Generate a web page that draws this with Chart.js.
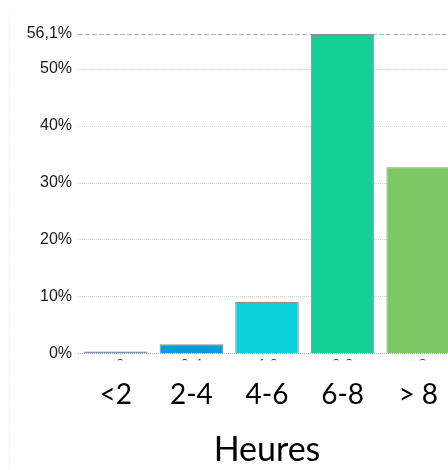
<!DOCTYPE html>
<html>
<head>
<meta charset="utf-8">
<script src="https://cdn.jsdelivr.net/npm/chart.js@4/dist/chart.umd.min.js"></script>
<style>
  html, body { margin: 0; padding: 0; background: #fff; overflow: hidden; }
  #wrap { width: 470px; height: 470px; }
</style>
</head>
<body>
<div id="wrap"><canvas id="c" width="470" height="470"></canvas></div>
<script>
// Répartition des heures (en %)
const categories = ['<2', '2-4', '4-6', '6-8', '> 8'];
const values = [0.3, 1.6, 9.0, 56.1, 32.7];
const barColors = ['#3a6db3', '#069fd6', '#0dd1dc', '#13cf97', '#7cc965'];
const yTicks = [0, 10, 20, 30, 40, 50, 56.1];
const xTitle = 'Heures';

const fmtPct = v => String(v).replace('.', ',') + '%';

// Grille horizontale : pointillés fins, tirets pour le maximum
const gridPlugin = {
  id: 'grid',
  beforeDatasetsDraw(chart) {
    const { ctx, chartArea } = chart;
    const y = chart.scales.y;
    ctx.save();
    // filet vertical très pâle à gauche
    ctx.strokeStyle = '#e6e6e6';
    ctx.lineWidth = 1;
    ctx.setLineDash([1, 2]);
    ctx.beginPath();
    ctx.moveTo(9.5, 12);
    ctx.lineTo(9.5, chart.height);
    ctx.stroke();
    yTicks.forEach(v => {
      const py = Math.round(y.getPixelForValue(v)) + 0.5;
      const isMax = v === yTicks[yTicks.length - 1];
      if (v === 0) { ctx.strokeStyle = '#a8a8a8'; ctx.setLineDash([1, 1]); }
      else if (isMax) { ctx.strokeStyle = '#b8b8b8'; ctx.setLineDash([5, 2]); }
      else { ctx.strokeStyle = '#d0d0d0'; ctx.setLineDash([1, 1]); }
      ctx.beginPath();
      ctx.moveTo(chartArea.left, py);
      ctx.lineTo(chartArea.right, py);
      ctx.stroke();
    });
    ctx.restore();
  },
  afterDraw(chart) {
    // sommets des petites étiquettes d'origine, masquées sous l'axe
    const { ctx, chartArea } = chart;
    const x = chart.scales.x;
    ctx.save();
    ctx.beginPath();
    ctx.rect(chartArea.left, chartArea.bottom + 4, chartArea.right - chartArea.left, 3);
    ctx.clip();
    ctx.fillStyle = '#333';
    ctx.font = '15px "Liberation Sans", Arial, sans-serif';
    ctx.textAlign = 'center';
    ctx.textBaseline = 'top';
    categories.forEach((c, i) => {
      ctx.fillText(c.replace(' ', ''), x.getPixelForValue(i), chartArea.bottom + 4);
    });
    ctx.restore();
  }
};

new Chart(document.getElementById('c'), {
  type: 'bar',
  data: {
    labels: categories,
    datasets: [{
      data: values,
      backgroundColor: barColors,
      borderColor: '#8a8a8a',
      borderWidth: 1,
      categoryPercentage: 0.84,
      barPercentage: 1.0
    }]
  },
  options: {
    responsive: false,
    animation: false,
    layout: { padding: { top: 34, right: 14, bottom: 0, left: 0 } },
    plugins: { legend: { display: false }, tooltip: { enabled: false } },
    scales: {
      x: {
        grid: { display: false, drawTicks: false, tickLength: 0 },
        border: { display: false },
        ticks: {
          color: '#000',
          padding: 25,
          font: { family: 'Lato, "Open Sans", sans-serif', size: 28 },
          maxRotation: 0,
          autoSkip: false
        },
        title: {
          display: true,
          text: xTitle,
          color: '#000',
          font: { family: 'Lato, "Open Sans", sans-serif', size: 34 },
          padding: { top: 6, bottom: 0 }
        },
        afterFit(s) { s.height = 116.7; }
      },
      y: {
        min: 0,
        max: 56.1,
        grid: { display: false, drawTicks: false, tickLength: 0 },
        border: { display: false },
        afterBuildTicks(s) { s.ticks = yTicks.map(v => ({ value: v })); },
        ticks: {
          color: '#1a1a1a',
          padding: 6,
          font: { family: '"Liberation Sans", Arial, sans-serif', size: 16 },
          callback: v => fmtPct(v)
        },
        afterFit(s) { s.width = 78; }
      }
    }
  },
  plugins: [gridPlugin]
});
</script>
</body>
</html>
